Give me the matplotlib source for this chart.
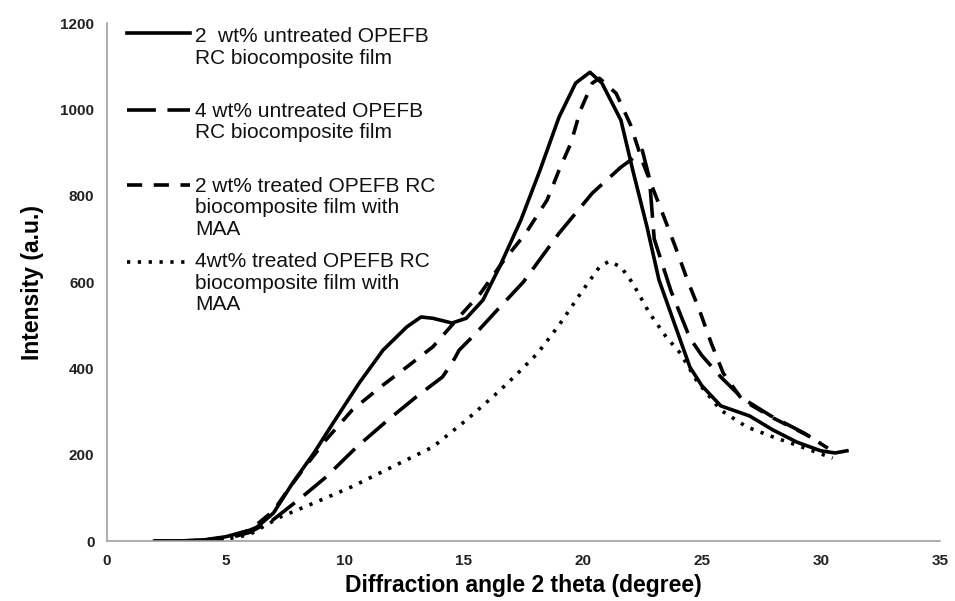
import matplotlib.pyplot as plt

# values
x_un2 = [2, 3, 4, 5, 6, 6.3, 7, 7.8, 8.7, 9.5, 10.6, 11.6, 12.6, 13.2, 13.7, 14.5, 15.1, 15.8,
         16.5, 17.4, 18.2, 19.0, 19.7, 20.3, 20.8, 21.6, 22.1, 22.7, 23.2, 23.9, 24.5, 25.0,
         25.8, 27, 28, 29, 30, 30.6, 31.1]
y_un2 = [0, 0, 2, 10, 25, 32, 65, 134, 204, 273, 366, 442, 496, 519, 516, 505, 516, 558,
         635, 744, 859, 982, 1061, 1086, 1061, 975, 859, 727, 605, 496, 403, 360,
         313, 290, 257, 229, 209, 204, 209]

x_un4 = [2, 3, 4, 5, 6, 7, 8.2, 9.2, 10.5, 11.8, 13.0, 14.1, 14.5, 14.8, 15.5, 16.4, 17.5,
         19.0, 20.4, 21.6, 22.0, 22.5, 22.8, 23.0, 23.7, 24.5, 25.0, 25.8, 26.7, 27.9, 29.3, 30.3]
y_un4 = [0, 0, 2, 5, 20, 50, 102, 148, 218, 280, 334, 380, 412, 442, 481, 535, 600,
         713, 806, 866, 882, 905, 840, 700, 580, 470, 430, 380, 331, 290, 250, 215]

x_tr2 = [2, 3, 4, 5, 6, 7, 7.6, 8.3, 9.2, 10.3, 11.5, 12.6, 13.7, 14.8, 15.7, 16.6, 17.6,
         18.5, 19.0, 19.5, 19.9, 20.4, 20.7, 21.4, 22.0, 22.5, 23.4, 23.9, 24.4, 24.9, 25.4,
         25.9, 26.7, 28.0, 29.4, 30.0]
y_tr2 = [0, 0, 2, 8, 25, 70, 118, 170, 234, 303, 357, 403, 450, 519, 574, 644, 713,
         790, 859, 922, 998, 1061, 1072, 1037, 965, 880, 752, 680, 604, 535, 458,
         389, 327, 285, 246, 228]

x_tr4 = [2, 3, 4, 5, 6, 6.3, 7.3, 8.7, 10.3, 12.0, 13.7, 15.1, 16.4, 17.2, 18.1, 19.0, 20.0,
         20.7, 21.1, 21.6, 22.1, 22.8, 23.5, 24.1, 24.8, 25.8, 26.9, 28.0, 29.2, 30.5]
y_tr4 = [0, 0, 1, 4, 15, 25, 56, 88, 126, 172, 218, 280, 343, 385, 435, 500, 581,
         635, 648, 635, 597, 528, 473, 435, 370, 303, 264, 241, 218, 192]

labels = ["2  wt% untreated OPEFB\nRC biocomposite film",
          "4 wt% untreated OPEFB\nRC biocomposite film",
          "2 wt% treated OPEFB RC\nbiocomposite film with\nMAA",
          "4wt% treated OPEFB RC\nbiocomposite film with\nMAA"]

series = [(x_un2, y_un2), (x_un4, y_un4), (x_tr2, y_tr2), (x_tr4, y_tr4)]
styles = [None, (8, 3.2), (4.2, 3.2), (0.9, 2.1)]

fig = plt.figure(figsize=(9.55, 6.01), dpi=100)
ax = fig.add_axes([0.112, 0.0998, 0.872, 0.8619])

lw = 2.6
for (xs, ys), d in zip(series, styles):
    if d is None:
        ax.plot(xs, ys, color='black', lw=lw)
    else:
        ax.plot(xs, ys, color='black', lw=lw, dashes=d)

ax.set_xlim(0, 35)
ax.set_ylim(0, 1200)
ax.set_xticks(range(0, 36, 5))
ax.set_yticks(range(0, 1201, 200))
for s in ['top', 'right']:
    ax.spines[s].set_visible(False)
for s in ['left', 'bottom']:
    ax.spines[s].set_color('#a0a0a0')
    ax.spines[s].set_linewidth(1.2)
ax.tick_params(length=0, pad=9)
for t in ax.get_xticklabels() + ax.get_yticklabels():
    t.set_fontfamily('Liberation Sans')
    t.set_fontweight('bold')
    t.set_fontsize(11)
    t.set_color('#222222')

ax.set_xlabel("Diffraction angle 2 theta (degree)", family='Liberation Sans', weight='bold',
              fontsize=16.5, labelpad=5)
ax.set_ylabel("Intensity (a.u.)", family='Liberation Sans', weight='bold', fontsize=16.5,
              labelpad=12)

# legend: handle beside the first line of each label, like the source figure
leg_line_y = [0.981, 0.832, 0.687, 0.539]
leg_text_y = [0.992, 0.848, 0.703, 0.558]
for lab, d, ly, ty in zip(labels, styles, leg_line_y, leg_text_y):
    kw = dict(color='black', lw=lw, transform=ax.transAxes, clip_on=False)
    if d is not None:
        kw['dashes'] = d
    ax.plot([0.0235, 0.0995], [ly, ly], **kw)
    ax.text(0.106, ty, lab, transform=ax.transAxes, va='top', ha='left',
            family='Liberation Sans', fontsize=15, linespacing=1.17, color='#111111')

fig.savefig('out.png', dpi=100)
